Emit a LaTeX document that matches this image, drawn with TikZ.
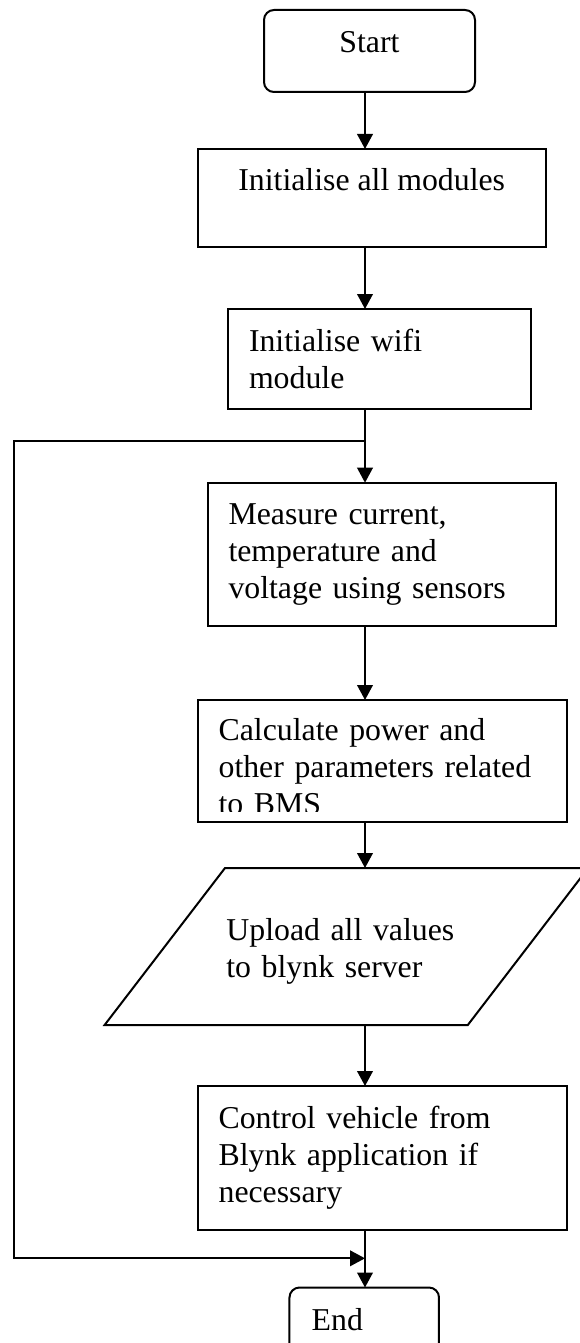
\documentclass[tikz,border=0pt]{standalone}
\usepackage{fontspec}
\setmainfont{Liberation Serif}
\usetikzlibrary{arrows.meta,positioning}

\tikzset{
  procbox/.style={draw, rectangle, align=left, inner xsep=10.5pt, inner ysep=0pt, outer sep=0pt},
  termbox/.style={draw, rectangle, rounded corners=5pt, inner sep=0pt, outer sep=0pt, text height=10.7pt, text depth=9pt},
  iobox/.style={rectangle, inner sep=0pt, outer sep=0pt, align=left}
}

\begin{document}
\begin{tikzpicture}[x=0.5pt,y=-0.5pt,line width=1pt,>={Triangle[length=7.5pt,width=7.8pt]},
  every node/.style={font=\fontsize{15.9pt}{18.5pt}\selectfont}]
  \useasboundingbox (0,0) rectangle (579,1343);
  \coordinate (axis) at (365,0);

  \node[termbox, minimum width=105.5pt, minimum height=41pt] (start) at (369.5,51) {Start};
  \node[procbox, align=center, minimum width=174.1pt, minimum height=49pt] (init) [below=28.5pt of start, xshift=1.1pt] {Initialise all modules\\\mbox{}};
  \node[procbox, text width=130.5pt, minimum width=151.5pt, minimum height=50pt] (wifi) [below=31pt of init, xshift=3.9pt] {Initialise wifi\\module};
  \node[procbox, text width=153.2pt, minimum width=174.2pt, minimum height=71.65pt] (measure) [below=36.85pt of wifi, xshift=1.1pt] {Measure current,\\temperature and\\voltage using sensors};
  % last line of this box is cut off at the bottom
  \begin{scope}
    \clip (0,0) rectangle (579,811.7);
    \node[procbox, draw=none, text width=163.6pt, minimum width=184.6pt, minimum height=60.85pt] (calc) [below=37pt of measure, xshift=0.25pt] {\rule{0pt}{16.9pt}Calculate power and\\other parameters related\\to BMS};
  \end{scope}
  \draw (calc.north west) rectangle (calc.south east);
  \node[iobox, text width=120pt, minimum width=181.6pt, minimum height=78.5pt] (upload) [below=23.15pt of calc, xshift=-17.9pt] {\rule{0pt}{15.9pt}Upload all values\\to blynk server};
  \draw ([xshift=30.1pt]upload.north west) -- ([xshift=30.1pt]upload.north east)
     -- ([xshift=-30.1pt]upload.south east) -- ([xshift=-30.1pt]upload.south west) -- cycle;
  \node[procbox, text width=163.6pt, minimum width=184.6pt, minimum height=72pt] (control) [below=30.5pt of upload, xshift=17.9pt] {Control vehicle from\\Blynk application if\\necessary};
  \node[termbox, align=left, inner xsep=11.1pt, text width=52.5pt, minimum width=74.75pt, minimum height=41pt] (end) [below=28.75pt of control, xshift=-8.98pt] {End};

  \coordinate (jtop) at (365,441);
  \coordinate (jbot) at (365,1258.3);
  \coordinate (lcorner) at (14,1258.3);

  \path[->]
    (start.south -| axis)   edge (init.north -| axis)
    (init.south -| axis)    edge (wifi.north -| axis)
    (wifi.south -| axis)    edge (measure.north -| axis)
    (measure.south -| axis) edge (calc.north -| axis)
    (calc.south -| axis)    edge (upload.north -| axis)
    (upload.south -| axis)  edge (control.north -| axis)
    (control.south -| axis) edge (end.north -| axis);

  % return path
  \draw[->] (jtop) -| (lcorner) -- (jbot);
\end{tikzpicture}
\end{document}
